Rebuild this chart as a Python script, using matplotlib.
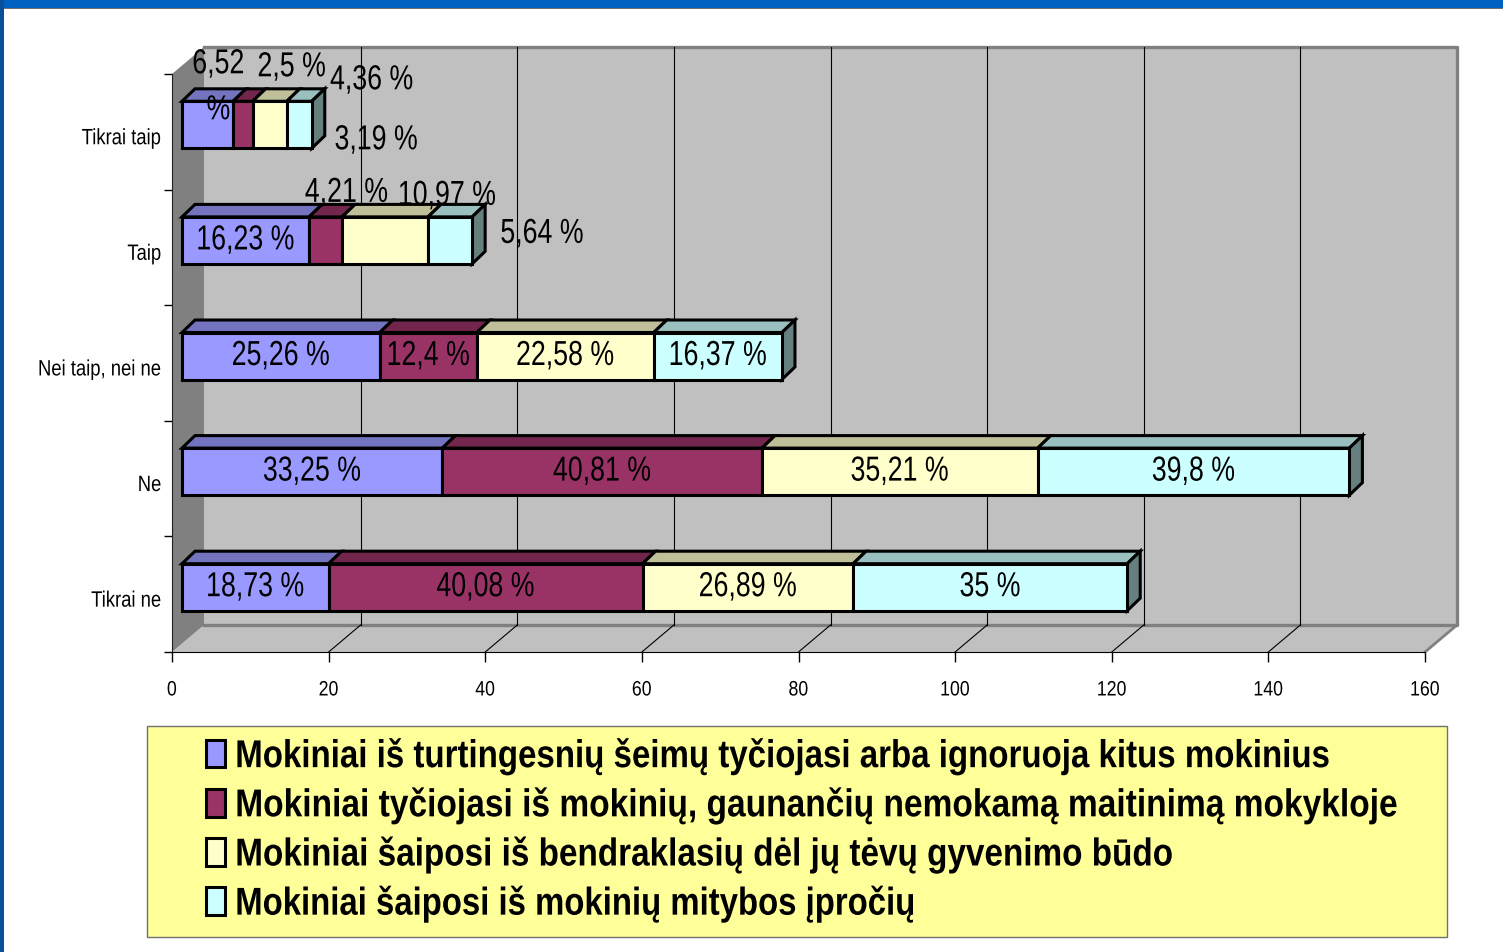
import numpy as np
import matplotlib
matplotlib.use('Agg')
import matplotlib.pyplot as plt
from matplotlib.patches import Polygon, Rectangle, Patch
from matplotlib.patheffects import AbstractPathEffect
from matplotlib.transforms import Affine2D

plt.rcParams['font.family'] = ['Liberation Sans', 'DejaVu Sans']

categories = ['Tikrai ne', 'Ne', 'Nei taip, nei ne', 'Taip', 'Tikrai taip']
series_names = ['Mokiniai iš turtingesnių šeimų tyčiojasi arba ignoruoja kitus mokinius',
                'Mokiniai tyčiojasi iš mokinių, gaunančių nemokamą maitinimą mokykloje',
                'Mokiniai šaiposi iš bendraklasių dėl jų tėvų gyvenimo būdo',
                'Mokiniai šaiposi iš mokinių mitybos įpročių']
turtingesni = [18.73, 33.25, 25.26, 16.23, 6.52]
nemokamas = [40.08, 40.81, 12.4, 4.21, 2.5]
tevai = [26.89, 35.21, 22.58, 10.97, 4.36]
mityba = [35, 39.8, 16.37, 5.64, 3.19]
x_ticks = [0, 20, 40, 60, 80, 100, 120, 140, 160]

front_colors = ['#9999FF', '#993366', '#FFFFCC', '#CCFFFF']
top_colors = ['#7373BF', '#73264C', '#BFBF99', '#99BFBF']
side_colors = ['#737FBF', '#73264C', '#BFBF99', '#668080']

# label shifts in pixels (x right, y down) for labels pushed off their segment
label_shift = {(4, 0): (11, -38), (4, 1): (49, -58), (4, 2): (102, -45), (4, 3): (77, 15),
               (3, 1): (21, -48), (3, 2): (62, -45), (3, 3): (92, -7)}
legend_squeeze = [0.85, 0.862, 0.856, 0.846]


class Squeeze(AbstractPathEffect):
    """Narrows drawn text horizontally, no condensed font is installed."""

    def __init__(self, sx, align='center'):
        super().__init__()
        self.sx = sx
        self.align = align

    def draw_path(self, renderer, gc, tpath, affine, rgbFace=None):
        xs = tpath.vertices[:, 0]
        pivot = {'left': 0.0, 'center': (xs.min() + xs.max()) / 2, 'right': xs.max()}[self.align]
        squeeze = Affine2D().translate(-pivot, 0).scale(self.sx, 1).translate(pivot, 0)
        renderer.draw_path(gc, tpath, squeeze + affine, rgbFace)


W, H = 1503, 953
fig = plt.figure(figsize=(W / 100, H / 100), dpi=100, facecolor='white')

# slide frame
fig.add_artist(Rectangle((0, 1 - 9 / H), 1, 9 / H, transform=fig.transFigure, fc='#0060C0', ec='none'))
fig.add_artist(Rectangle((0, 0), 4 / W, 1, transform=fig.transFigure, fc='#0A4F98', ec='none'))
fig.add_artist(Rectangle((4 / W, 1 - 10 / H), 1 - 4 / W, 1.2 / H, transform=fig.transFigure, fc='#707070', ec='none'))

ax_l, ax_r, ax_t, ax_b = 172, 1425, 75, 653
ax = fig.add_axes([ax_l / W, 1 - ax_b / H, (ax_r - ax_l) / W, (ax_b - ax_t) / H])
ax.set_xlim(0, 160)
ax.set_ylim(-0.5, 4.5)
ax.patch.set_visible(False)
px_x = (ax_r - ax_l) / 160
px_y = (ax_b - ax_t) / 5


def dx(px):
    return px / px_x


def dy(px):
    return px / px_y


# walls and floor, offset from the front plane by the chart depth
wall_x, wall_y = dx(32), dy(27)
ax.add_patch(Polygon([(wall_x, -0.5 + wall_y), (160 + wall_x, -0.5 + wall_y), (160 + wall_x, 4.5 + wall_y), (wall_x, 4.5 + wall_y)],
                     fc='#C0C0C0', ec='none', clip_on=False, zorder=1))
ax.add_patch(Polygon([(0, -0.5), (160, -0.5), (160 + wall_x, -0.5 + wall_y), (wall_x, -0.5 + wall_y)],
                     fc='#C0C0C0', ec='none', clip_on=False, zorder=1))
ax.add_patch(Polygon([(0, -0.5), (wall_x, -0.5 + wall_y), (wall_x, 4.5 + wall_y), (0, 4.5)],
                     fc='#808080', ec='none', clip_on=False, zorder=1))
ax.plot([wall_x, 160 + wall_x, 160 + wall_x, wall_x], [4.5 + wall_y, 4.5 + wall_y, -0.5 + wall_y, -0.5 + wall_y],
        color='#808080', lw=2.4, clip_on=False, zorder=2)
ax.plot([160, 160 + wall_x], [-0.5, -0.5 + wall_y], color='#808080', lw=2, clip_on=False, zorder=2)

for t in x_ticks[1:-1]:
    ax.plot([t + wall_x, t + wall_x], [-0.5 + wall_y, 4.5 + wall_y], color='black', lw=0.8, clip_on=False, zorder=2)
    ax.plot([t, t + wall_x], [-0.5, -0.5 + wall_y], color='black', lw=0.8, clip_on=False, zorder=2)

# stacked bars in fake 3D
rows = np.arange(len(categories))
series = np.array([turtingesni, nemokamas, tevai, mityba], dtype=float)
lefts = np.vstack([np.zeros(len(categories)), np.cumsum(series, axis=0)[:-1]])
bar_h = dy(47)
bar_x0 = dx(10)
bar_y0 = dy(7)
depth_x, depth_y = dx(13), dy(12.5)

for s in range(len(series)):
    ax.barh(rows + bar_y0, series[s], left=lefts[s] + bar_x0, height=bar_h,
            color=front_colors[s], edgecolor='black', lw=2.2, zorder=5)
    for r in rows:
        x0 = lefts[s][r] + bar_x0
        x1 = x0 + series[s][r]
        y1 = r + bar_y0 + bar_h / 2
        ax.add_patch(Polygon([(x0, y1), (x1, y1), (x1 + depth_x, y1 + depth_y), (x0 + depth_x, y1 + depth_y)],
                             fc=top_colors[s], ec='black', lw=2.2, joinstyle='miter', zorder=4))
        if s == len(series) - 1:
            ax.add_patch(Polygon([(x1, y1), (x1 + depth_x, y1 + depth_y), (x1 + depth_x, y1 + depth_y - bar_h), (x1, y1 - bar_h)],
                                 fc=side_colors[s], ec='black', lw=2.2, joinstyle='miter', zorder=4))

        txt = f'{series[s][r]:g}'.replace('.', ',') + ' %'
        if (r, s) == (4, 0):
            txt = txt.replace(' ', '\n')
        shift = label_shift.get((r, s), (0, -0.5))
        ax.annotate(txt, (x0 + series[s][r] / 2, r + bar_y0), xytext=(shift[0] * 0.72, -shift[1] * 0.72),
                    textcoords='offset points', ha='center', va='center', fontsize=25, color='black',
                    linespacing=1.5, annotation_clip=False, zorder=8, path_effects=[Squeeze(0.77)])

ax.set_xticks(x_ticks)
ax.set_yticks(np.arange(-0.5, 5, 1))
ax.set_yticklabels([])
ax.tick_params(axis='x', length=7.5, width=1, pad=13, labelsize=15)
ax.tick_params(axis='y', length=6, width=1, pad=5)
plt.setp(ax.get_xticklabels(), path_effects=[Squeeze(0.85)])
for r, name in zip(rows, categories):
    ax.annotate(name, (0, r), xytext=(-7.5, -5), textcoords='offset points', ha='right', va='center', fontsize=16,
                path_effects=[Squeeze(0.83, 'right')])

for side in ['top', 'right']:
    ax.spines[side].set_visible(False)
ax.spines['left'].set_color('#202020')
ax.spines['bottom'].set_color('black')
ax.spines['left'].set_zorder(3)
ax.spines['bottom'].set_zorder(3)

# legend box
fig.add_artist(Rectangle((147 / W, 1 - 938 / H), 1300 / W, 211 / H, transform=fig.transFigure,
                         fc='#FFFF99', ec='#707070', lw=1))
handles = [Patch(fc=c, ec='black', lw=2.2) for c in front_colors]
leg = fig.legend(handles, series_names, loc='upper left', bbox_to_anchor=(194 / W, 1 - 727 / H), frameon=False,
                 prop={'weight': 'bold', 'size': 28}, handlelength=0.5, handleheight=0.72, handletextpad=0.26,
                 labelspacing=0.3, borderpad=0.3, borderaxespad=0)
for text, sx in zip(leg.get_texts(), legend_squeeze):
    text.set_path_effects([Squeeze(sx, 'left')])

fig.savefig('out.png', dpi=100)
